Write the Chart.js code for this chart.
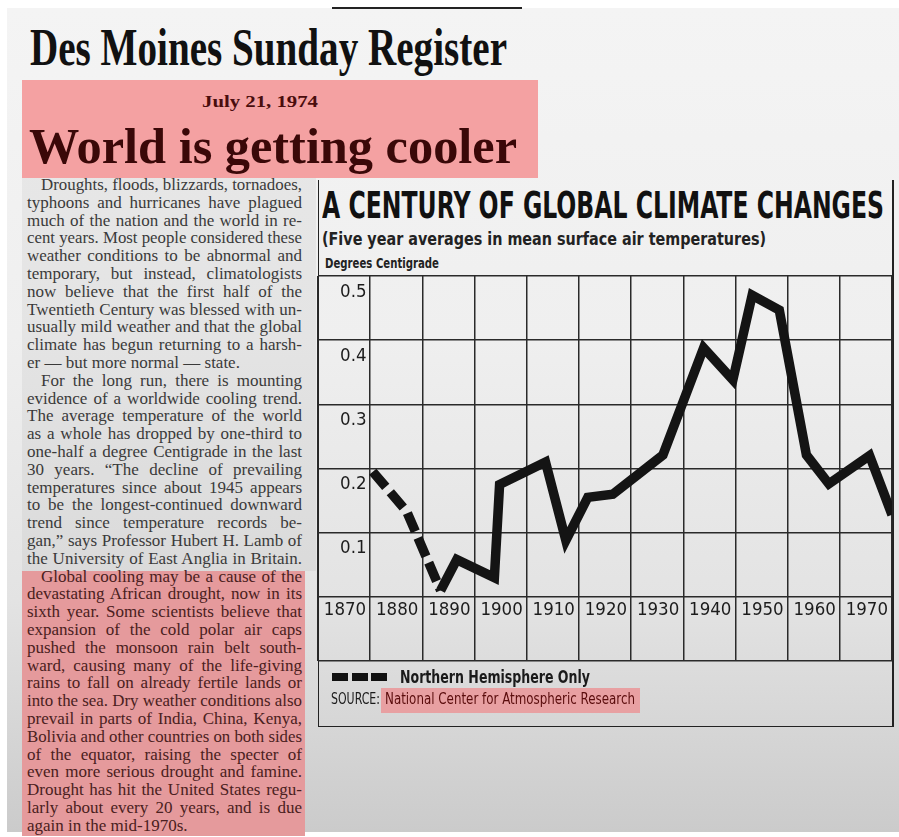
<!DOCTYPE html>
<html><head><meta charset="utf-8">
<script src="https://cdn.jsdelivr.net/npm/chart.js@4.4.1/dist/chart.umd.min.js"></script>
<style>
html,body{margin:0;padding:0;background:#fff;}
body{width:899px;height:837px;position:relative;overflow:hidden;}
#paper{position:absolute;left:7px;top:8px;width:892px;height:824px;background:linear-gradient(to bottom,#f4f4f4 0%,#efefef 40%,#e3e3e3 72%,#cbcbcb 100%);}
.abs{position:absolute;white-space:nowrap;line-height:1;transform-origin:0 0;}
.narrow{font-family:'Liberation Sans Narrow','DejaVu Sans Condensed','Liberation Sans',sans-serif;}
.serif{font-family:'Liberation Serif','DejaVu Serif',serif;}
.ln{position:absolute;white-space:nowrap;font-family:'Liberation Serif','DejaVu Serif',serif;font-size:17px;line-height:18px;transform-origin:0 0;}
.blk{position:absolute;background:#111;}
.rule{position:absolute;background:#222;}
#chartBox{position:absolute;left:310px;top:260px;width:589px;height:420px;}
</style></head>
<body>
<div id="paper"></div>
<div class="rule" style="left:332px;top:7px;width:190px;height:2px;"></div>
<div class="abs serif fit" data-w="477" style="left:30px;top:21.5px;font-size:52px;font-weight:bold;color:#111;">Des Moines Sunday Register</div>
<div class="abs" style="left:21.5px;top:80px;width:516px;height:98px;background:#f4a1a2;"></div>
<div class="abs serif fit" data-w="116" style="left:202px;top:93.6px;font-size:16px;font-weight:bold;color:#4a0d0d;">July 21, 1974</div>
<div class="abs serif fit" data-w="488" style="left:29px;top:121px;font-size:51px;font-weight:bold;color:#3a0808;">World is getting cooler</div>

<div class="abs" style="left:22px;top:178px;width:294px;height:393px;background:rgba(0,0,0,0.045);"></div>
<div class="abs" style="left:22px;top:571px;width:283px;height:265px;background:#e59a9c;"></div>
<div id="article"></div>

<!-- chart frame -->
<div class="rule" style="left:317.5px;top:180px;width:1.5px;height:547px;"></div>
<div class="rule" style="left:892px;top:180px;width:1.5px;height:547px;"></div>
<div class="rule" style="left:318px;top:725.5px;width:575.5px;height:1.5px;"></div>

<div class="abs narrow fit" data-w="562" style="left:322px;top:186px;font-size:38px;font-weight:bold;color:#111;">A CENTURY OF GLOBAL CLIMATE CHANGES</div>
<div class="abs narrow fit" data-w="444" style="left:322px;top:229.8px;font-size:18px;font-weight:bold;color:#222;">(Five year averages in mean surface air temperatures)</div>
<div class="abs narrow fit" data-w="114" style="left:325px;top:256.7px;font-size:13.7px;font-weight:bold;color:#222;">Degrees Centigrade</div>

<div id="chartBox"><canvas id="c" width="589" height="420"></canvas></div>

<div class="blk" style="left:332px;top:673px;width:16px;height:8px;"></div>
<div class="blk" style="left:351.5px;top:673px;width:16px;height:8px;"></div>
<div class="blk" style="left:371px;top:673px;width:16px;height:8px;"></div>
<div class="abs narrow fit" data-w="190" style="left:400px;top:668px;font-size:18px;font-weight:bold;color:#1a1a1a;">Northern Hemisphere Only</div>
<div class="abs narrow fit" data-w="49" style="left:331px;top:692.3px;font-size:15px;color:#1a1a1a;">SOURCE:</div>
<div class="abs" style="left:381px;top:688px;width:259px;height:24.7px;background:#e8a0a2;"></div>
<div class="abs narrow fit" data-w="250" style="left:385px;top:692.3px;font-size:15px;color:#5a0c0c;">National Center for Atmospheric Research</div>

<script>
// ---- chart data ----
const nhYears = [1870.5, 1877.0, 1883.5];
const nhTemps = [0.195, 0.133, 0.010];
const globalYears = [1883.5, 1886.6, 1893.8, 1894.8, 1903.6, 1907.5, 1911.7, 1916.5, 1926.1, 1933.9, 1939.5, 1943.2, 1948.4, 1953.6, 1957.9, 1965.7, 1970.0];
const globalTemps = [0.010, 0.058, 0.030, 0.175, 0.210, 0.088, 0.155, 0.160, 0.221, 0.388, 0.338, 0.470, 0.447, 0.221, 0.176, 0.220, 0.128];
const decadeTicks = [1870, 1880, 1890, 1900, 1910, 1920, 1930, 1940, 1950, 1960, 1970];
const xTickLabels = ['1870', '1880', '1890', '1900', '1910', '1920', '1930', '1940', '1950', '1960', '1970'];
const yTickLabels = ['0.1', '0.2', '0.3', '0.4', '0.5'];

// ---- article text ----
const para1 = [
 'Droughts, floods, blizzards, tornadoes,',
 'typhoons and hurricanes have plagued',
 'much of the nation and the world in re-',
 'cent years. Most people considered these',
 'weather conditions to be abnormal and',
 'temporary, but instead, climatologists',
 'now believe that the first half of the',
 'Twentieth Century was blessed with un-',
 'usually mild weather and that the global',
 'climate has begun returning to a harsh-',
 'er \u2014 but more normal \u2014 state.'
];
const para2 = [
 'For the long run, there is mounting',
 'evidence of a worldwide cooling trend.',
 'The average temperature of the world',
 'as a whole has dropped by one-third to',
 'one-half a degree Centigrade in the last',
 '30 years. \u201CThe decline of prevailing',
 'temperatures since about 1945 appears',
 'to be the longest-continued downward',
 'trend since temperature records be-',
 'gan,\u201D says Professor Hubert H. Lamb of',
 'the University of East Anglia in Britain.'
];
const para3 = [
 'Global cooling may be a cause of the',
 'devastating African drought, now in its',
 'sixth year. Some scientists believe that',
 'expansion of the cold polar air caps',
 'pushed the monsoon rain belt south-',
 'ward, causing many of the life-giving',
 'rains to fall on already fertile lands or',
 'into the sea. Dry weather conditions also',
 'prevail in parts of India, China, Kenya,',
 'Bolivia and other countries on both sides',
 'of the equator, raising the specter of',
 'even more serious drought and famine.',
 'Drought has hit the United States regu-',
 'larly about every 20 years, and is due',
 'again in the mid-1970s.'
];

(function buildArticle(){
  const host = document.getElementById('article');
  const paras = [[para1, false, '#3a3a3a'], [para2, true, '#3a3a3a'], [para3, false, '#4a2020']];
  let i = 0;
  paras.forEach(([lines, justifyLast, col]) => {
    lines.forEach((t, k) => {
      const indent = k === 0 ? 14 : 0;
      const d = document.createElement('div');
      d.className = 'ln';
      d.textContent = t;
      d.style.left = (27 + indent) + 'px';
      d.style.top = (187 + i * 17.8 - 11) + 'px';
      d.style.color = col;
      host.appendChild(d);
      const target = 275 - indent;
      const w = d.getBoundingClientRect().width;
      const isLast = k === lines.length - 1;
      if (w > target) {
        d.style.transform = 'scaleX(' + (target / w) + ')';
      } else if (!isLast || justifyLast) {
        const spaces = (t.match(/ /g) || []).length;
        if (spaces) d.style.wordSpacing = ((target - w) / spaces) + 'px';
      }
      i++;
    });
  });
})();

document.querySelectorAll('.fit').forEach(el => {
  const w = el.getBoundingClientRect().width;
  el.style.transform = 'scaleX(' + (parseFloat(el.dataset.w) / w) + ')';
});

// ---- chart ----
const tickFont = {family: "'Liberation Sans Narrow','DejaVu Sans Condensed','Liberation Sans',sans-serif", size: 18.5};
new Chart(document.getElementById('c'), {
  type: 'line',
  data: {
    datasets: [
      {label: 'Northern Hemisphere Only', data: nhYears.map((x, i) => ({x: x, y: nhTemps[i]})),
       borderColor: '#141414', borderWidth: 9.5, borderDash: [20, 7], borderCapStyle: 'butt',
       borderJoinStyle: 'miter', pointRadius: 0, tension: 0, fill: false},
      {label: 'Global', data: globalYears.map((x, i) => ({x: x, y: globalTemps[i]})),
       borderColor: '#141414', borderWidth: 9.5, borderJoinStyle: 'miter', borderCapStyle: 'butt',
       pointRadius: 0, tension: 0, fill: false}
    ]
  },
  options: {
    responsive: false, animation: false, devicePixelRatio: 1,
    layout: {padding: {left: 8, top: 16, right: 7, bottom: 19}},
    plugins: {legend: {display: false}, tooltip: {enabled: false}},
    scales: {
      x: {type: 'linear', min: 1860, max: 1970, position: {y: 0},
          border: {display: false},
          grid: {color: '#2a2a2a', lineWidth: 1.5, drawTicks: false},
          ticks: {stepSize: 10, autoSkip: false, maxRotation: 0, minRotation: 0, align: 'end',
                  labelOffset: -4, padding: 2.5, color: '#1c1c1c', font: tickFont,
                  callback: v => { const i = decadeTicks.indexOf(Math.round(v)); return i >= 0 ? xTickLabels[i] : ''; }}},
      y: {type: 'linear', min: -0.1, max: 0.5, position: {x: 1869.3},
          border: {display: false},
          grid: {color: '#2a2a2a', lineWidth: 1.5, drawTicks: false},
          ticks: {stepSize: 0.1, padding: 0, labelOffset: 16, color: '#1c1c1c', font: tickFont,
                  callback: v => { const k = Math.round(v * 10); return k >= 1 ? yTickLabels[k - 1] : ''; }}}
    }
  }
});
</script>
</body></html>
